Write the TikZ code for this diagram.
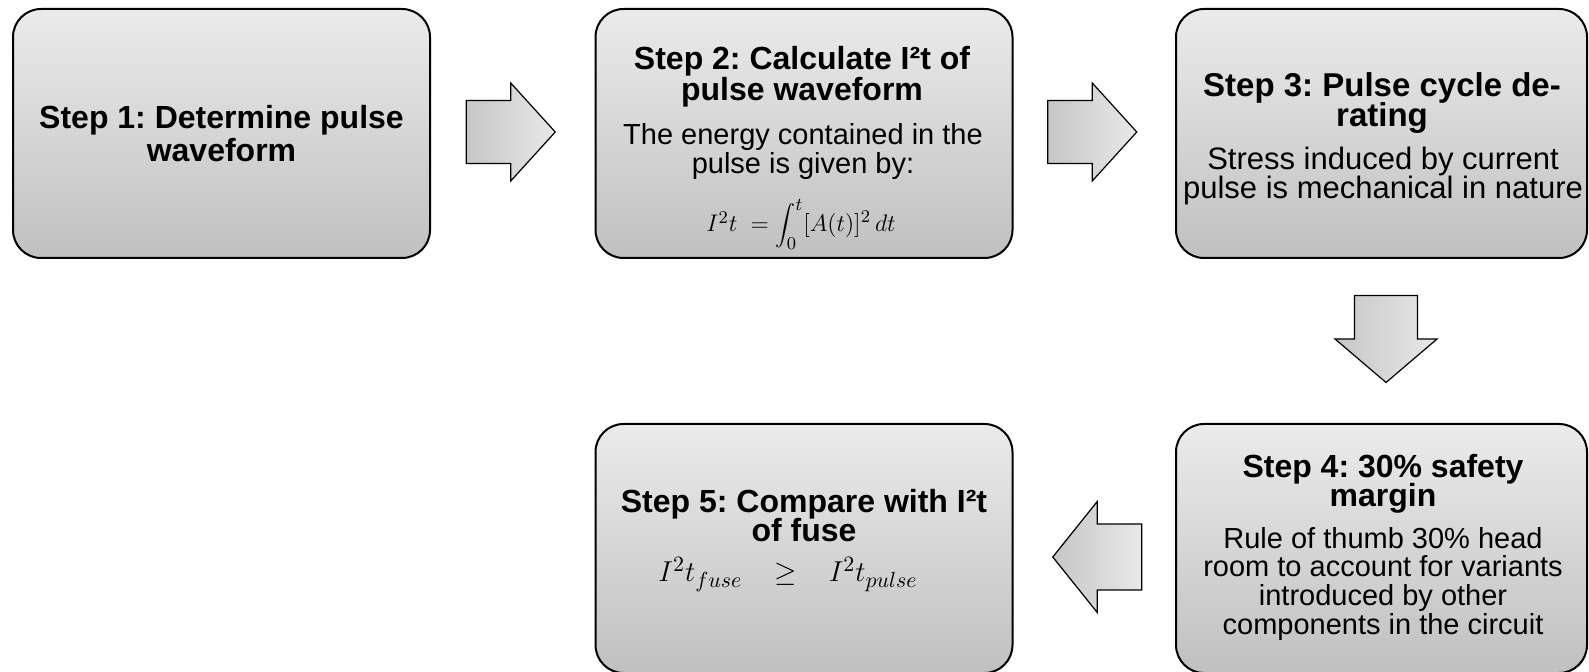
\documentclass[tikz,border=0pt]{standalone}
\usepackage{fontspec}
\setmainfont{Liberation Sans}
\usetikzlibrary{calc}
\DeclareMathSizes{14}{14}{10.5}{8}
\definecolor{boxtop}{HTML}{EBEBEB}
\definecolor{boxbot}{HTML}{C0C0C0}
\definecolor{arrdark}{HTML}{C6C6C6}
\definecolor{arrlight}{HTML}{E8E8E8}
\begin{document}
\frenchspacing
\begin{tikzpicture}[x=0.5pt,y=-0.5pt,
  stepbox/.style={draw=black, line width=1pt, rounded corners=14pt,
    top color=boxtop, bottom color=boxbot,
    minimum width=208.5pt, minimum height=124.5pt, inner sep=0pt},
  narrowbox/.style={stepbox, minimum width=205.5pt},
  blockarrow/.style={draw=black, line width=0.6pt, left color=arrdark, right color=arrlight},
  titletext/.style={anchor=base, inner sep=0pt, font=\bfseries\fontsize{16}{16}\selectfont},
  bigtitletext/.style={anchor=base, inner sep=0pt, font=\bfseries\fontsize{16.5}{16.5}\selectfont},
  bodytext/.style={anchor=base, inner sep=0pt, font=\fontsize{14.5}{14.5}\selectfont},
  bigbodytext/.style={anchor=base, inner sep=0pt, font=\fontsize{15.5}{15.5}\selectfont},
  mathtext/.style={anchor=base, inner sep=0pt}]

\useasboundingbox (0,0) rectangle (1589,672);

% boxes
\node[stepbox] (b1) at (221.5,133.5) {};
\node[stepbox] (b2) at (804,133.5) {};
\node[narrowbox] (b3) at (1381.5,133.5) {};
\node[narrowbox] (b4) at (1381.5,548.5) {};
\node[stepbox] (b5) at (804,548.5) {};

% block arrows between boxes
\coordinate (a1) at ($(b1.east)!0.5!(b2.west)+(-2,-1.5)$);
\coordinate (a2) at ($(b2.east)!0.5!(b3.west)+(-2,-1.5)$);
\coordinate (a3) at ($(b3.south)!0.5!(b4.north)+(4.5,-2)$);
\coordinate (a4) at ($(b5.east)!0.5!(b4.west)+(3,8.5)$);

\path[blockarrow] (a1) ++(-44.5,-31.5) -- ++(44.5,0) -- ++(0,-17.5) -- ++(44.5,49)
  -- ++(-44.5,49) -- ++(0,-17.5) -- ++(-44.5,0) -- cycle;
\path[blockarrow] (a2) ++(-44.5,-31.5) -- ++(44.5,0) -- ++(0,-17.5) -- ++(44.5,49)
  -- ++(-44.5,49) -- ++(0,-17.5) -- ++(-44.5,0) -- cycle;
\path[blockarrow] (a3) ++(-31.5,-43.5) -- ++(63,0) -- ++(0,43.5) -- ++(19.5,0)
  -- ++(-51,43.5) -- ++(-51,-43.5) -- ++(19.5,0) -- cycle;
\path[blockarrow] (a4) ++(44.5,-33) -- ++(-44.5,0) -- ++(0,-22.5) -- ++(-44.5,55.5)
  -- ++(44.5,55.5) -- ++(0,-22.5) -- ++(44.5,0) -- cycle;

% Step 1
\node[titletext] (t1a) at (221.5,129) {Step 1: Determine pulse};
\node[titletext] (t1b) at (221.5,162) {waveform};

% Step 2
\node[titletext] (t2a) at (802,70) {Step 2: Calculate I²t of};
\node[titletext] (t2b) at (802,101) {pulse waveform};
\node[bodytext] (t2c) at (803,145) {The energy contained in the};
\node[bodytext] (t2d) at (803,173.5) {pulse is given by:};
\node[mathtext] (t2e) at (801,232) {\fontsize{12.2}{14}\selectfont$I^2t\ =\displaystyle\int_0^t [A(t)]^2\,dt$};

% Step 3
\node[bigtitletext] (t3a) at (1382,96.5) {Step 3: Pulse cycle de-};
\node[bigtitletext] (t3b) at (1382,127) {rating};
\node[bigbodytext] (t3c) at (1383,169.5) {Stress induced by current};
\node[bigbodytext] (t3d) at (1383,199) {pulse is mechanical in nature};

% Step 4
\node[titletext] (t4a) at (1383,478) {Step 4: 30\% safety};
\node[titletext] (t4b) at (1383,507) {margin};
\node[bodytext] (t4c) at (1383,549) {Rule of thumb 30\% head};
\node[bodytext] (t4d) at (1383,577) {room to account for variants};
\node[bodytext] (t4e) at (1383,606) {introduced by other};
\node[bodytext] (t4f) at (1383,634) {components in the circuit};

% Step 5
\node[titletext] (t5a) at (804,513) {Step 5: Compare with I²t};
\node[titletext] (t5b) at (804,542) {of fuse};
\node[mathtext] (t5c) at (788,582) {\fontsize{14}{16}\selectfont$I^2t_{fuse}\;\;\;\geq\;\;\;I^2t_{pulse}$};
\end{tikzpicture}
\end{document}
